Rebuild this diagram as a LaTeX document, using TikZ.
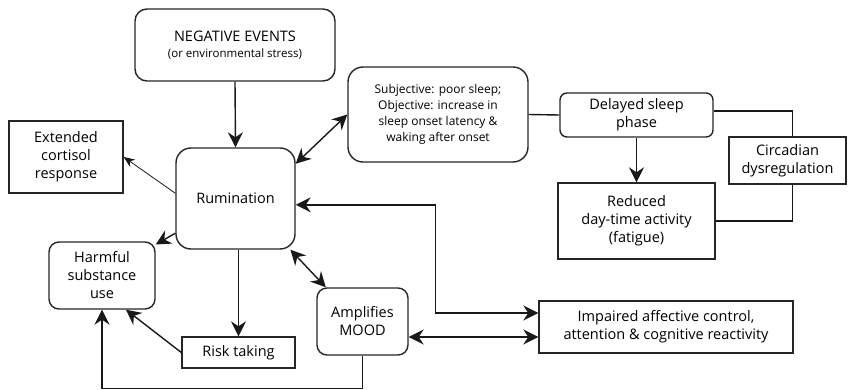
\documentclass[tikz,border=0pt]{standalone}
\usepackage{fontspec}
\setmainfont{Open Sans}
\usetikzlibrary{arrows.meta,calc}
\begin{document}
\begin{tikzpicture}[x=1pt,y=-1pt,
  every node/.style={font=\fontsize{14.5}{18}\selectfont, align=center, inner sep=0pt, line width=1.4pt, draw=black!85},
  rbox/.style={draw, rounded corners=#1},
  rbox/.default=12pt,
  sbox/.style={draw},
  conn/.style={line width=1.4pt, draw=black!90},
  tip/.style={-{Stealth[length=15pt,width=15pt,inset=5pt]}},
  dtip/.style={{Stealth[length=15pt,width=15pt,inset=5pt]}-{Stealth[length=15pt,width=15pt,inset=5pt]}},
  thin tip/.style={-{Stealth[length=11pt,width=9pt,inset=3.5pt]}, line width=0.8pt}
]
\useasboundingbox (0,0) rectangle (853,390);

% boxes
\node[rbox=12pt, minimum width=200pt, minimum height=72pt] (neg) at (235,45)
  {NEGATIVE EVENTS\\[-2pt]{\fontsize{11.5}{14}\selectfont (or environmental stress)}};
\node[rbox=15pt, minimum width=119pt, minimum height=101pt] (rum) at (235.5,198.5) {Rumination};
\node[sbox, minimum width=114pt, minimum height=72pt] (ext) at (66,157) {Extended\\cortisol\\response};
\node[rbox=15pt, minimum width=180pt, minimum height=95pt, font=\fontsize{12}{16}\selectfont] (subj) at (438,114.5)
  {Subjective: poor sleep;\\Objective: increase in\\sleep onset latency \&\\waking after onset};
\node[rbox=7pt, minimum width=153pt, minimum height=44pt] (delay) at (636.5,115) {Delayed sleep\\phase};
\node[sbox, minimum width=117pt, minimum height=47pt] (circ) at (787.5,160.5) {Circadian\\dysregulation};
\node[sbox, minimum width=157pt, minimum height=76pt] (red) at (636.5,221) {Reduced\\day-time activity\\(fatigue)};
\node[sbox, minimum width=254pt, minimum height=52pt] (imp) at (666,327)
  {Impaired affective control,\\attention \& cognitive reactivity};
\node[rbox=10pt, minimum width=91pt, minimum height=67pt] (amp) at (362.5,321.5) {Amplifies\\MOOD};
\node[rbox=10pt, minimum width=106pt, minimum height=67pt] (harm) at (102,275.5) {Harmful\\substance\\use};
\node[sbox, minimum width=113pt, minimum height=31pt] (risk) at (238.5,352.5) {Risk taking};

% connection points
\coordinate (impA) at ($(imp.west)+(0,-14)$);
\coordinate (impB) at ($(imp.west)+(0,10)$);
\coordinate (circT) at ($(circ.north)+(5,0)$);
\coordinate (circB) at ($(circ.south)+(5,0)$);
\coordinate (delayE) at ($(delay.east)+(0,-4)$);

% connectors
\draw[conn, tip] (neg.south) -- (rum.north);
\draw[conn, dtip] (rum.30) -- (subj.west);
\draw[conn, thin tip] (rum.175) -- (ext.east);
\draw[conn, tip] (rum.210) -- (harm.30);
\draw[conn, tip] (rum.south -| risk.north) -- (risk.north);
\draw[conn, tip] (risk.west) -- (harm.-55);
\draw[conn, tip] (amp.south) -- ++(0,33) -| (harm.south);
\draw[conn, dtip] (rum.-43) -- (amp.137);
\draw[conn, dtip] (rum.-6) -- ++(140,0) |- (impA);
\draw[conn, dtip] (amp.east |- impB) -- (impB);
\draw[conn, tip] (delay.south) -- (red.north);
\draw[conn] (subj.east) -- (delay.west);
\draw[conn] (delayE) -| (circT);
\draw[conn] (red.east) -| (circB);
\end{tikzpicture}
\end{document}
